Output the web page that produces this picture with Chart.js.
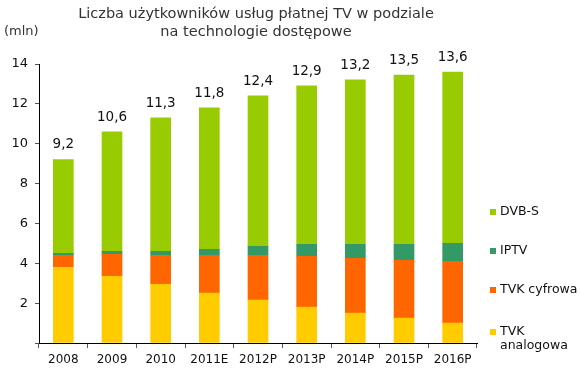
<!DOCTYPE html>
<html>
<head>
<meta charset="utf-8">
<script src="https://cdn.jsdelivr.net/npm/chart.js@4"></script>
<style>
  html, body { margin: 0; padding: 0; background: #fff; }
  #wrap { width: 581px; height: 368px; position: relative; }
</style>
</head>
<body>
<div id="wrap"><canvas id="myChart" width="581" height="368"></canvas></div>
<script>
// data (mln)
const years = ['2008', '2009', '2010', '2011E', '2012P', '2013P', '2014P', '2015P', '2016P'];
const analog = [3.8, 3.35, 2.95, 2.5, 2.15, 1.8, 1.5, 1.25, 1.0];
const cyfrowa = [0.6, 1.1, 1.45, 1.9, 2.25, 2.55, 2.75, 2.9, 3.1];
const iptv = [0.1, 0.15, 0.2, 0.3, 0.45, 0.6, 0.7, 0.8, 0.9];
const dvbs = [4.7, 6.0, 6.7, 7.1, 7.55, 7.95, 8.25, 8.5, 8.6];
const totals = [9.2, 10.6, 11.3, 11.8, 12.4, 12.9, 13.2, 13.5, 13.6];
const yTicks = [0, 2, 4, 6, 8, 10, 12, 14];

const FONT = '"DejaVu Sans", Verdana, sans-serif';

// title, unit, totals above bars and the legend on the right
const extras = {
  id: 'extras',
  afterDraw(chart) {
    const c = chart.ctx;
    c.save();
    c.fillStyle = '#333';
    c.font = '14.5px ' + FONT;
    c.textAlign = 'center';
    c.textBaseline = 'middle';
    c.fillText('Liczba użytkowników usług płatnej TV w podziale', 256, 14);
    c.fillText('na technologie dostępowe', 256, 32);
    c.textAlign = 'left';
    c.font = '13px ' + FONT;
    c.fillText('(mln)', 4, 32);

    // totals
    const meta = chart.getDatasetMeta(chart.data.datasets.length - 1);
    c.fillStyle = '#111';
    c.textAlign = 'center';
    c.textBaseline = 'bottom';
    c.font = '13.5px ' + FONT;
    meta.data.forEach((bar, i) => {
      c.fillText(totals[i].toFixed(1).replace('.', ','), bar.x, bar.y - 8);
    });

    // legend
    const ds = chart.data.datasets.slice().reverse();
    const ys = [212, 251, 290, 332];
    c.textBaseline = 'middle';
    c.textAlign = 'left';
    c.font = '12.5px ' + FONT;
    ds.forEach((d, i) => {
      c.fillStyle = d.backgroundColor;
      c.fillRect(490, ys[i] - 3, 6, 6);
      c.fillStyle = '#111';
      d.label.split('\n').forEach((line, k) => {
        c.fillText(line, 500, ys[i] + k * 14);
      });
    });
    c.restore();
  }
};

const ctx = document.getElementById('myChart').getContext('2d');
const myChart = new Chart(ctx, {
  type: 'bar',
  data: {
    labels: years,
    datasets: [
      { label: 'TVK\nanalogowa', data: analog, backgroundColor: '#FFCC00' },
      { label: 'TVK cyfrowa', data: cyfrowa, backgroundColor: '#FF6600' },
      { label: 'IPTV', data: iptv, backgroundColor: '#339966' },
      { label: 'DVB-S', data: dvbs, backgroundColor: '#99CC00' },
    ],
  },
  plugins: [extras],
  options: {
    responsive: false,
    animation: false,
    layout: { padding: { top: 64, right: 104, left: 0, bottom: 0 } },
    datasets: { bar: { barThickness: 20 } },
    plugins: {
      legend: { display: false },
      title: { display: false },
      tooltip: { enabled: false },
    },
    scales: {
      x: {
        stacked: true,
        border: { color: '#000', width: 1 },
        grid: { offset: true, drawOnChartArea: false, tickLength: 5, color: '#555' },
        ticks: { color: '#111', font: { family: FONT, size: 12 }, padding: 5, maxRotation: 0 },
        afterFit(scale) { scale.height = 25; },
      },
      y: {
        stacked: true,
        min: 0,
        max: 14,
        border: { color: '#000', width: 1 },
        grid: { drawOnChartArea: false, tickLength: 4, color: '#555' },
        afterBuildTicks(scale) { scale.ticks = yTicks.map((v) => ({ value: v })); },
        ticks: {
          color: '#111',
          font: { family: FONT, size: 13 },
          padding: 7,
          callback: (v) => (v === 0 ? '' : v),
        },
        afterFit(scale) { scale.width = 39; },
      },
    },
  },
});
</script>
</body>
</html>
